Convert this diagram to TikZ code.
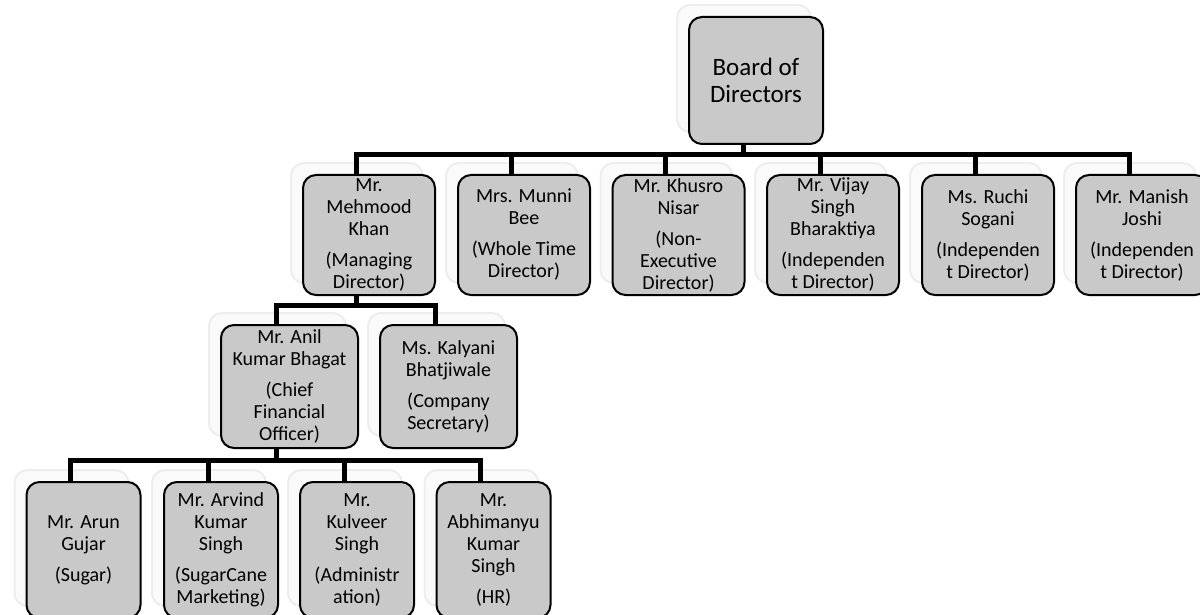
\documentclass[tikz,border=0pt]{standalone}
\usepackage{fontspec}
\setmainfont{Carlito}
\usetikzlibrary{shadows}

\begin{document}
\begin{tikzpicture}[x=0.5pt,y=-0.5pt]
  % Parameters
  \def\off{-6.5pt}    % stems sit a little left of the box centres
  \def\gap{4.5pt}     % space between a name and the post

  % Styles
  \tikzset{
    box/.style={draw=black,line width=1pt,fill=black!21,rounded corners=6.5pt,
      align=center,inner sep=0pt,font=\fontsize{10}{11}\selectfont,
      drop shadow={shadow xshift=-6pt,shadow yshift=6pt,fill=black!2,draw=black!7,opacity=1}},
    boardbox/.style={box,minimum width=67pt,minimum height=63.5pt,
      font=\fontsize{12.5}{13.5}\selectfont},
    dirbox/.style={box,minimum width=66pt,minimum height=60pt},
    offbox/.style={box,minimum width=68.5pt,minimum height=61.5pt},
    deptbox/.style={box,minimum width=57pt,minimum height=68pt},
    link/.style={line width=2.5pt}
  }

  \useasboundingbox (0,0) rectangle (1200,615);

  % Board
  \node[boardbox] (board) at (756,80.5) {Board of\\Directors};

  % Directors
  \node[dirbox] (mehmood) at (369,235) {Mr.\\Mehmood\\Khan\\[\gap](Managing\\Director)};
  \node[dirbox] (munni)   at (524,235) {Mrs. Munni\\Bee\\[\gap](Whole Time\\Director)};
  \node[dirbox] (khusro)  at (678.5,235) {Mr. Khusro\\Nisar\\[\gap](Non-\\Executive\\Director)};
  \node[dirbox] (vijay)   at (833,235) {Mr. Vijay\\Singh\\Bharaktiya\\[\gap](Independen\\t Director)};
  \node[dirbox] (ruchi)   at (988,235) {Ms. Ruchi\\Sogani\\[\gap](Independen\\t Director)};
  \node[dirbox] (manish)  at (1142,235) {Mr. Manish\\Joshi\\[\gap](Independen\\t Director)};

  % Officers under the MD
  \node[offbox] (anil)    at (289.5,386.5) {Mr. Anil\\Kumar Bhagat\\[\gap](Chief\\Financial\\Officer)};
  \node[offbox] (kalyani) at (448.5,386.5) {Ms. Kalyani\\Bhatjiwale\\[\gap](Company\\Secretary)};

  % Departments under the CFO
  \node[deptbox] (arun)      at (83.5,550) {Mr. Arun\\Gujar\\[\gap](Sugar)};
  \node[deptbox] (arvind)    at (221,550) {Mr. Arvind\\Kumar\\Singh\\[\gap](SugarCane\\Marketing)};
  \node[deptbox] (kulveer)   at (357,550) {Mr.\\Kulveer\\Singh\\[\gap](Administr\\ation)};
  \node[deptbox] (abhimanyu) at (493.5,550) {Mr.\\Abhimanyu\\Kumar\\Singh\\[\gap](HR)};

  % Bus levels
  \coordinate (busA) at (0,155);
  \coordinate (busB) at (0,305);
  \coordinate (busC) at (0,460);

  % Connectors
  \foreach \c in {mehmood,munni,khusro,vijay,ruchi,manish}
    \draw[link] ([xshift=\off]board.south) |- ([xshift=\off]\c.north |- busA) -- ([xshift=\off]\c.north);
  \foreach \c in {anil,kalyani}
    \draw[link] ([xshift=\off]mehmood.south) |- ([xshift=\off]\c.north |- busB) -- ([xshift=\off]\c.north);
  \foreach \c in {arun,arvind,kulveer,abhimanyu}
    \draw[link] ([xshift=\off]anil.south) |- ([xshift=\off]\c.north |- busC) -- ([xshift=\off]\c.north);

\end{tikzpicture}
\end{document}
